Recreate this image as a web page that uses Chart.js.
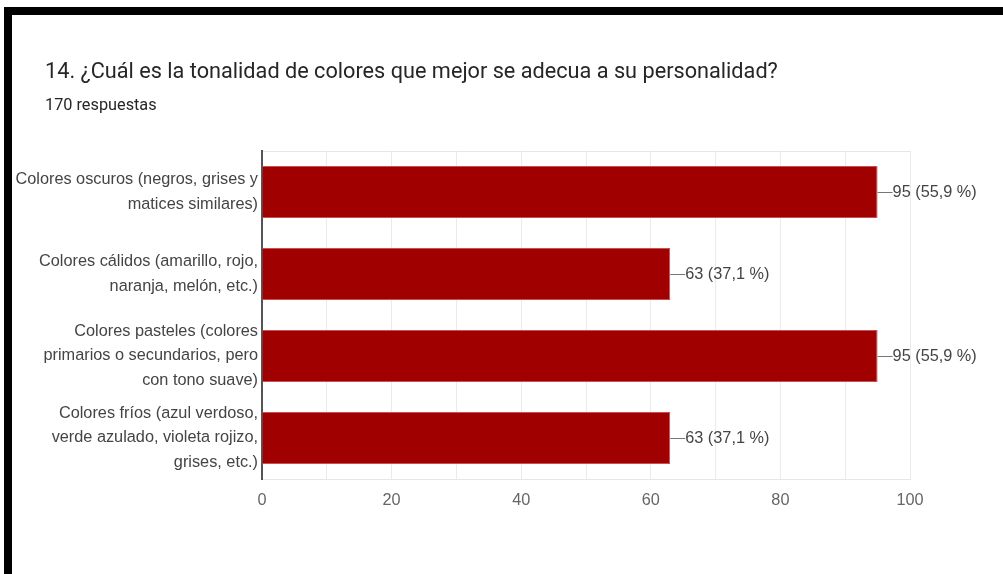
<!DOCTYPE html>
<html lang="es">
<head>
<meta charset="UTF-8">
<title>Tonalidad de colores</title>
<script src="https://cdn.jsdelivr.net/npm/chart.js@4"></script>
<style>
    body { margin: 0; background: #fff; }
    .marco { position: relative; width: 1003px; height: 574px; overflow: hidden; }
    .borde_top { position: absolute; left: 4px; top: 7px; width: 1003px; height: 8px; background: #000; }
    .borde_izq { position: absolute; left: 4px; top: 7px; width: 8px; height: 574px; background: #000; }
    .titulo { position: absolute; left: 45px; top: 58px; font: 21.7px Roboto, sans-serif; color: #262626; white-space: nowrap; }
    .respuestas { position: absolute; left: 45px; top: 95px; font: 16.3px Roboto, sans-serif; color: #262626; }
    canvas { position: absolute; left: 0; top: 0; }
</style>
</head>
<body>
<div class="marco">
    <canvas id="chartTonalidad" width="1003" height="574"></canvas>
    <div class="borde_top"></div>
    <div class="borde_izq"></div>
    <div class="titulo">14. ¿Cuál es la tonalidad de colores que mejor se adecua a su personalidad?</div>
    <div class="respuestas">170 respuestas</div>
</div>

<script>
    // datos
    const categorias = [
        ['Colores oscuros (negros, grises y', 'matices similares)'],
        ['Colores cálidos (amarillo, rojo,', 'naranja, melón, etc.)'],
        ['Colores pasteles (colores', 'primarios o secundarios, pero', 'con tono suave)'],
        ['Colores fríos (azul verdoso,', 'verde azulado, violeta rojizo,', 'grises, etc.)']
    ];
    const votos = [95, 63, 95, 63];
    const totalRespuestas = 170;
    const ticksX = [0, 20, 40, 60, 80, 100];

    const fuenteArial = '"Liberation Sans", Arial, sans-serif';

    // marco gris del area del grafico
    const marcoArea = {
        id: 'marcoArea',
        beforeDraw(chart) {
            const a = chart.chartArea;
            const ctx = chart.ctx;
            ctx.save();
            ctx.strokeStyle = '#e6e6e6';
            ctx.lineWidth = 1;
            ctx.strokeRect(a.left + 0.5, a.top + 0.5, a.right - a.left, a.bottom - a.top);
            ctx.restore();
        }
    };

    // etiquetas de valor al final de cada barra
    const etiquetasValor = {
        id: 'etiquetasValor',
        afterDatasetsDraw(chart) {
            const ctx = chart.ctx;
            const meta = chart.getDatasetMeta(0);
            ctx.save();
            ctx.font = '16.3px ' + fuenteArial;
            ctx.textBaseline = 'middle';
            ctx.textAlign = 'left';
            meta.data.forEach((barra, i) => {
                const v = votos[i];
                const pct = (v / totalRespuestas * 100).toFixed(1).replace('.', ',');
                ctx.strokeStyle = '#777';
                ctx.lineWidth = 1;
                ctx.beginPath();
                ctx.moveTo(barra.x, Math.round(barra.y) + 0.5);
                ctx.lineTo(barra.x + 15, Math.round(barra.y) + 0.5);
                ctx.stroke();
                ctx.fillStyle = '#444';
                ctx.fillText(v + ' (' + pct + ' %)', barra.x + 15, barra.y + 1);
            });
            ctx.restore();
        }
    };

    new Chart(document.getElementById('chartTonalidad'), {
        type: 'bar',
        data: {
            labels: categorias,
            datasets: [{
                data: votos,
                backgroundColor: '#a00000',
                borderColor: '#c85050',
                borderWidth: 1,
                categoryPercentage: 0.634,
                barPercentage: 1
            }]
        },
        options: {
            indexAxis: 'y',
            responsive: false,
            animation: false,
            layout: { padding: { top: 151, right: 93, left: 0, bottom: 0 } },
            plugins: {
                legend: { display: false },
                tooltip: { enabled: false }
            },
            scales: {
                x: {
                    min: 0,
                    max: 100,
                    afterFit(s) { s.height = 95; },
                    ticks: {
                        stepSize: 10,
                        padding: 12,
                        color: '#666',
                        font: { family: fuenteArial, size: 16.3 },
                        callback: v => ticksX.includes(v) ? v : ''
                    },
                    grid: { color: '#ebebeb', drawTicks: false },
                    border: { display: false }
                },
                y: {
                    afterFit(s) { s.width = 262; },
                    ticks: {
                        padding: 4,
                        color: '#444',
                        font: { family: fuenteArial, size: 16.3, lineHeight: 1.53 }
                    },
                    grid: { display: false, drawTicks: false },
                    border: { display: true, color: '#555', width: 2 }
                }
            }
        },
        plugins: [marcoArea, etiquetasValor]
    });
</script>
</body>
</html>
